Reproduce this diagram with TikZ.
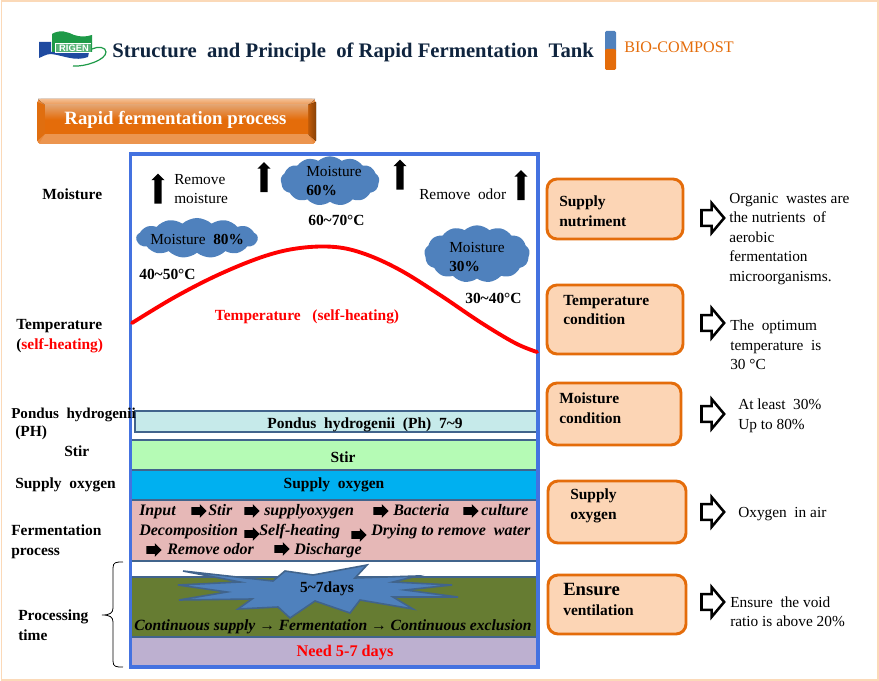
\documentclass[tikz,border=0pt]{standalone}
\usepackage{fontspec}
\setmainfont{Liberation Serif}
\usetikzlibrary{shapes.symbols,shapes.arrows}
\definecolor{framec}{HTML}{FBD9B8}
\definecolor{tankblue}{HTML}{4472E0}
\definecolor{barline}{HTML}{41648C}
\definecolor{cloudblue}{HTML}{4F81BD}
\definecolor{orangeline}{HTML}{E46C0A}
\definecolor{peach}{HTML}{FCD5B5}
\definecolor{navy}{HTML}{0F243E}
\definecolor{logoblue}{HTML}{1F4AA0}
\definecolor{logogreen}{HTML}{1E9A48}
\newcommand{\pxfont}[2]{\fontsize{#1}{#2}\selectfont}
\tikzset{
  x=0.75pt,y=-0.75pt,
  txt/.style={inner sep=0pt,anchor=west,align=left,font=\pxfont{11.5pt}{14.6pt}},
  lbl/.style={txt,font=\pxfont{11.6pt}{14.8pt}\bfseries},
  mid/.style={inner sep=0pt,anchor=center,align=center,yshift=-1.2pt,font=\pxfont{11.6pt}{14.6pt}\bfseries},
  proc/.style={inner sep=0pt,anchor=west,text height=8.5pt,text depth=2.5pt,yshift=-0.4pt,font=\pxfont{12pt}{14pt}\bfseries\itshape},
  layer/.style={draw=barline,line width=1.5pt},
  condition/.style={draw=orangeline,fill=peach,line width=2.2pt,rounded corners=7.5pt},
  puff/.style={cloud,cloud puffs=13,cloud puff arc=85,fill=cloudblue,inner sep=0pt,aspect=2},
  uparrow/.style={single arrow,fill=black,inner sep=0pt,rotate=90,minimum height=22.5pt,
    single arrow head extend=2.2pt,single arrow head indent=0pt,single arrow tip angle=90},
  blockarrow/.style={single arrow,fill=black,inner sep=0pt,minimum height=11.5pt,
    single arrow head extend=2.2pt,single arrow head indent=0pt,single arrow tip angle=90},
  hollow/.style={single arrow,draw=black,fill=white,line width=1.9pt,inner sep=0pt,minimum height=17pt,
    single arrow head extend=5.2pt,single arrow head indent=0pt,single arrow tip angle=100},
}
\newcommand{\upshaft}{\rule{0pt}{5pt}}
\newcommand{\blockshaft}{\rule{0pt}{5.4pt}}
\newcommand{\hollowshaft}{\rule{0pt}{10pt}}
\begin{document}
\begin{tikzpicture}
\useasboundingbox (0,0) rectangle (879,681);
% page frame
\draw[framec,line width=1.3pt] (1.5,0.8) rectangle (878,680);

% logo
\fill[logoblue] (39,42) -- (51,42) -- (51,52) -- (89,52) -- (88,57) .. controls (75,62) and (62,55) .. (51,54) .. controls (46,54) and (42,57) .. (39,58) -- cycle;
\fill[logogreen] (52,34) .. controls (60,29) and (68,32) .. (74,35) .. controls (80,37) and (86,37) .. (92,35) -- (92,52) -- (52,52) -- cycle;
\fill[white] (55,43) rectangle (91,53);
\fill[logogreen!75!white] (56,44) rectangle (91,52);
\node[inner sep=0pt,text=white,font=\fontspec{Liberation Sans}\pxfont{7pt}{8pt}\bfseries] (logotext) at (74,48) {RIGEN};
\draw[logogreen,line width=0.9pt] (92,49) .. controls (98,46) and (106,47) .. (106,52) .. controls (106,60) and (85,67) .. (73,66);

% title
\node[txt,font=\pxfont{15.5pt}{17pt}\bfseries,text=navy] (title) at (112,52) {Structure\ \ and Principle\ \ of Rapid Fermentation\ \ Tank};
\fill[cloudblue,rounded corners=1pt] (605,31) rectangle (616,52);
\fill[orangeline,rounded corners=1pt] (605,49) rectangle (616,70);
\node[txt,font=\pxfont{12.1pt}{13pt},text=orangeline] (brand) at (624,47) {BIO-COMPOST};

% bevelled heading button
\fill[orangeline!80!white,rounded corners=3pt] (37,99) rectangle (316,144);
\fill[top color=orangeline!45!white,bottom color=orangeline!70!white] (38,99) -- (315,99) -- (308,105) -- (45,105) -- cycle;
\fill[left color=orangeline!85!black,right color=orangeline!60!black] (316,102) -- (316,141) -- (308,134) -- (308,105) -- cycle;
\fill[orangeline!72!white] (39,144) -- (314,144) -- (308,134) -- (45,134) -- cycle;
\fill[orangeline!90!brown] (37,102) -- (45,105) -- (45,134) -- (37,141) -- cycle;
\shade[top color=orangeline!60!white!90!gray,bottom color=orangeline,middle color=orangeline] (45,105) rectangle (308,134);
\node[mid,font=\pxfont{14.1pt}{15pt}\bfseries,text=white] (heading) at (175.5,118) {Rapid fermentation process};

% tank layers
\fill[fill={rgb,255:red,198;green,234;blue,234}] (135,411) rectangle (538,432);
\draw[layer] (135,411) rectangle (538,432);
\fill[fill={rgb,255:red,181;green,251;blue,181}] (131,441) rectangle (537,470);
\fill[fill={rgb,255:red,0;green,176;blue,240}] (131,471) rectangle (537,499);
\fill[fill={rgb,255:red,230;green,184;blue,183}] (131,501) rectangle (537,561);
\fill[fill={rgb,255:red,102;green,124;blue,50}] (131,577) rectangle (537,636);
\fill[fill={rgb,255:red,189;green,176;blue,208}] (131,637) rectangle (537,666);
\foreach \yy in {440,470,500,561,577,637}
  \draw[barline,line width=1.5pt] (131,\yy) -- (537,\yy);

% tank outline
\draw[tankblue,line width=2.3pt] (130.5,154) rectangle (538,667);

% temperature curve
\draw[red,line width=2.9pt,line cap=round] plot[smooth,tension=0.6] coordinates {(132,323) (175,297) (220,274) (265,256) (300,248) (335,247) (365,254) (400,270) (440,295) (480,322) (515,343) (537,352)};

% moisture clouds
\node[puff,minimum width=91pt,minimum height=30pt] (cloudA) at (197,238) {};
\node[puff,minimum width=74pt,minimum height=37pt] (cloudB) at (330,181) {};
\node[puff,minimum width=79pt,minimum height=43pt] (cloudC) at (477,254) {};
\node[txt] (moistA) at (150,240) {Moisture\ \ \textbf{80\%}};
\node[txt] (moistB) at (306,181) {Moisture\\\textbf{60\%}};
\node[txt] (moistC) at (449,257) {Moisture\\\textbf{30\%}};

% rising vapour
\node[uparrow] (ventA) at (158,190.5) {\upshaft};
\node[uparrow] (ventB) at (264,179) {\upshaft};
\node[uparrow] (ventC) at (400,176.5) {\upshaft};
\node[uparrow] (ventD) at (521,187) {\upshaft};
\node[txt] (removeM) at (174,189) {Remove\\moisture};
\node[txt] (removeO) at (419,194) {Remove\ \ odor};

% temperatures along the curve
\node[lbl] (tempA) at (139,274) {40\textasciitilde 50°C};
\node[lbl] (tempB) at (308,220) {60\textasciitilde 70°C};
\node[lbl] (tempC) at (465,298) {30\textasciitilde 40°C};
\node[mid,text=red] (tempcurve) at (307,315) {Temperature\ \ \ (self-heating)};

% left column labels
\node[lbl] (lMoist) at (42,194) {Moisture};
\node[lbl] (lTemp) at (16,336) {Temperature\\(\textcolor{red}{self-heating)}};
\node[lbl,font=\pxfont{11.3pt}{14.8pt}\bfseries] (lPh) at (11,414.5) {Pondus\ \ hydrogenii};
\node[lbl] (lPh2) at (15,433) {(PH)};
\node[lbl] (lStir) at (64,451) {Stir};
\node[lbl] (lOxy) at (15,484.5) {Supply\ \ oxygen};
\node[lbl] (lFer) at (11,542) {Fermentation\\process};
\node[lbl] (lTime) at (18,625) {Processing\\time};
\draw[black,line width=0.6pt] (123,562) .. controls (116,562) and (113,562) .. (113,568) -- (113,608) .. controls (113,613) and (110,615) .. (102,615) .. controls (110,615) and (113,617) .. (113,622) -- (113,661) .. controls (113,667) and (116,667) .. (123,667);

% layer captions
\node[mid] (phbar) at (365,423) {Pondus\ \ hydrogenii\ \ (Ph)\ \ 7\textasciitilde 9};
\node[mid] (stirbar) at (343,455.5) {Stir};
\node[mid] (oxybar) at (334,483) {Supply\ \ oxygen};

% process steps
\node[proc] (s1) at (139,511) {Input};
\node[blockarrow] (a1) at (197,511) {\blockshaft};
\node[proc] (s2) at (208,511) {Stir};
\node[blockarrow] (a2) at (250,511) {\blockshaft};
\node[proc] (s3) at (264,511) {supplyoxygen};
\node[blockarrow] (a3) at (379,511) {\blockshaft};
\node[proc] (s4) at (393,511) {Bacteria};
\node[blockarrow] (a4) at (469,511) {\blockshaft};
\node[proc] (s5) at (481,511) {culture};
\node[proc] (s6) at (139,531) {Decomposition};
\node[blockarrow] (a5) at (250,534) {\blockshaft};
\node[proc] (s7) at (259,531) {Self-heating};
\node[blockarrow] (a6) at (357,535) {\blockshaft};
\node[proc] (s8) at (371,531) {Drying to remove\ \ water};
\node[blockarrow] (a7) at (152,550) {\blockshaft};
\node[proc] (s9) at (167,550) {Remove odor};
\node[blockarrow] (a8) at (280,549) {\blockshaft};
\node[proc] (s10) at (294,550) {Discharge};

% burst over the green layer
\filldraw[fill=cloudblue,draw=barline,line width=1.2pt,line join=miter]
  (183,571) -- (240,582) -- (178,585) -- (227,592) -- (179,600) -- (252,599) -- (238,609) -- (278,607) -- (290,618) -- (315,601) -- (350,613) -- (360,600) -- (413,609) -- (393,597) -- (458,597) -- (405,590) -- (452,585) -- (393,582) -- (417,576) -- (355,578) -- (367,565) -- (313,575) -- (285,571) -- (273,581) -- cycle;
\node[mid] (days) at (327,587) {5\textasciitilde 7days};
\node[mid,font=\pxfont{11.7pt}{14pt}\bfseries\itshape] (flow) at (333,625) {Continuous supply → Fermentation → Continuous exclusion};
\node[mid,font=\pxfont{12.2pt}{14pt}\bfseries,text=red] (need) at (345,651) {Need 5-7 days};

% condition boxes
\draw[condition] (547,179) rectangle (683,239);
\draw[condition] (547,285) rectangle (683,354);
\draw[condition] (547,383) rectangle (681,445);
\draw[condition] (548,481) rectangle (686,543);
\draw[condition] (548,575) rectangle (686,634);
\node[lbl] (c1) at (559,211.5) {Supply\\nutriment};
\node[lbl] (c2) at (563,310) {Temperature\\condition};
\node[lbl] (c3) at (559,408) {Moisture\\condition};
\node[lbl] (c4) at (570,506) {Supply\\oxygen};
\node[lbl] (c5) at (563,589) {\pxfont{14pt}{15pt}Ensure};
\node[lbl] (c6) at (563,610) {ventilation};

% explanatory arrows and notes
\node[hollow] (h1) at (709.5,218) {\hollowshaft};
\node[hollow] (h2) at (709.5,323) {\hollowshaft};
\node[hollow] (h3) at (709.5,414) {\hollowshaft};
\node[hollow] (h4) at (709.5,512) {\hollowshaft};
\node[hollow] (h5) at (709.5,602) {\hollowshaft};
\node[txt] (n1) at (729,239) {Organic\ \ wastes are\\the nutrients\ \ of\\aerobic\\fermentation\\microorganisms.};
\node[txt] (n2) at (730,345) {The\ \ optimum\\temperature\ \ is\\30 °C};
\node[txt] (n3) at (738,416) {At least\ \ 30\%\\Up to 80\%};
\node[txt] (n4) at (738,514.5) {Oxygen\ \ in air};
\node[txt] (n5) at (730,612) {Ensure\ \ the void\\ratio is above 20\%};
\end{tikzpicture}
\end{document}
